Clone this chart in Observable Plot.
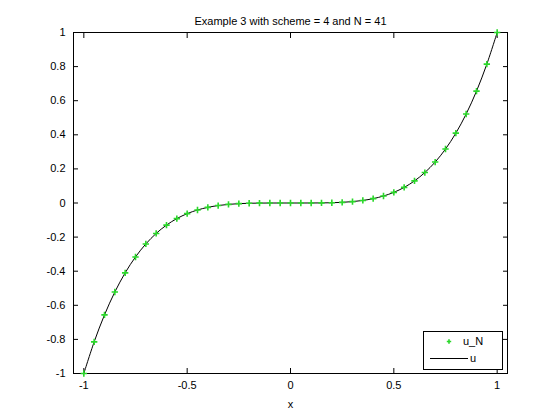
<!DOCTYPE html>
<html>
<head>
<meta charset="utf-8">
<script src="https://cdn.jsdelivr.net/npm/d3@7"></script>
<script src="https://cdn.jsdelivr.net/npm/@observablehq/plot@0.6"></script>
<style>
  html, body { margin: 0; padding: 0; background: #fff; }
  #chart { width: 560px; height: 420px; }
</style>
</head>
<body>
<div id="chart"></div>
<script>
const title = "Example 3 with scheme = 4 and N = 41";
const xLabel = "x";
const xValues = [-1, -0.95, -0.9, -0.85, -0.8, -0.75, -0.7, -0.65, -0.6, -0.55, -0.5,
  -0.45, -0.4, -0.35, -0.3, -0.25, -0.2, -0.15, -0.1, -0.05, 0,
  0.05, 0.1, 0.15, 0.2, 0.25, 0.3, 0.35, 0.4, 0.45, 0.5,
  0.55, 0.6, 0.65, 0.7, 0.75, 0.8, 0.85, 0.9, 0.95, 1];
const uN = [-1, -0.8145, -0.6561, -0.522, -0.4096, -0.3164, -0.2401, -0.1785, -0.1296, -0.0915, -0.0625,
  -0.041, -0.0256, -0.015, -0.0081, -0.0039, -0.0016, -0.0005, -0.0001, 0, 0,
  0, 0.0001, 0.0005, 0.0016, 0.0039, 0.0081, 0.015, 0.0256, 0.041, 0.0625,
  0.0915, 0.1296, 0.1785, 0.2401, 0.3164, 0.4096, 0.522, 0.6561, 0.8145, 1];
const uExact = uN.slice();
const xTicks = [-1, -0.5, 0, 0.5, 1];
const yTicks = [-1, -0.8, -0.6, -0.4, -0.2, 0, 0.2, 0.4, 0.6, 0.8, 1];
const legendLabels = ["u_N", "u"];

const pts = xValues.map((x, i) => ({x, y: uN[i]}));
const line = xValues.map((x, i) => ({x, y: uExact[i]}));
const fmt = d => String(+d.toFixed(2));
const font = "'Liberation Sans', Arial, sans-serif";
const green = "#2ad82a";

const plot = Plot.plot({
  width: 560,
  height: 420,
  marginTop: 32,
  marginBottom: 47,
  marginLeft: 73,
  marginRight: 53,
  style: {fontFamily: font, fontSize: "11px", background: "#fff", color: "#000"},
  x: {domain: [-1.05, 1.05]},
  y: {domain: [-1, 1]},
  marks: [
    Plot.frame({stroke: "#000", strokeWidth: 1}),
    Plot.axisX(xTicks, {anchor: "bottom", tickSize: 0, tickPadding: 8, tickFormat: fmt, label: xLabel, labelAnchor: "center", labelArrow: "none", labelOffset: 34, fontSize: 11}),
    Plot.axisX(xTicks, {anchor: "bottom", tickSize: -5, text: null, label: null}),
    Plot.axisX(xTicks, {anchor: "top", tickSize: -5, text: null, label: null}),
    Plot.axisY(yTicks, {anchor: "left", tickSize: 0, tickPadding: 8, tickFormat: fmt, label: null, fontSize: 11}),
    Plot.axisY(yTicks, {anchor: "left", tickSize: -5, text: null, label: null}),
    Plot.axisY(yTicks, {anchor: "right", tickSize: -5, text: null, label: null}),
    Plot.line(line, {x: "x", y: "y", stroke: "#000", strokeWidth: 1, curve: "catmull-rom"}),
    Plot.dot(pts, {x: "x", y: "y", symbol: "plus", r: 2.2, stroke: green, strokeWidth: 1.6}),
    Plot.text([title], {frameAnchor: "top", dy: -15, text: d => d, fontSize: 11, fontFamily: font})
  ]
});
document.getElementById("chart").appendChild(plot);

// legend (MATLAB-style box in the lower right corner)
const svg = d3.select(plot);
const g = svg.append("g").attr("font-family", font).attr("font-size", 11);
g.append("rect").attr("x", 423.5).attr("y", 331.5).attr("width", 79).attr("height", 38)
  .attr("fill", "#fff").attr("stroke", "#000");
g.append("path").attr("d", "M-2.2,0H2.2M0,-2.2V2.2").attr("transform", "translate(449,341.5)")
  .attr("stroke", green).attr("stroke-width", 1.6).attr("fill", "none");
g.append("text").attr("x", 473).attr("y", 345).text(legendLabels[0]);
g.append("line").attr("x1", 430).attr("x2", 468).attr("y1", 358.5).attr("y2", 358.5)
  .attr("stroke", "#000");
g.append("text").attr("x", 473).attr("y", 362).text(legendLabels[1]);
</script>
</body>
</html>
